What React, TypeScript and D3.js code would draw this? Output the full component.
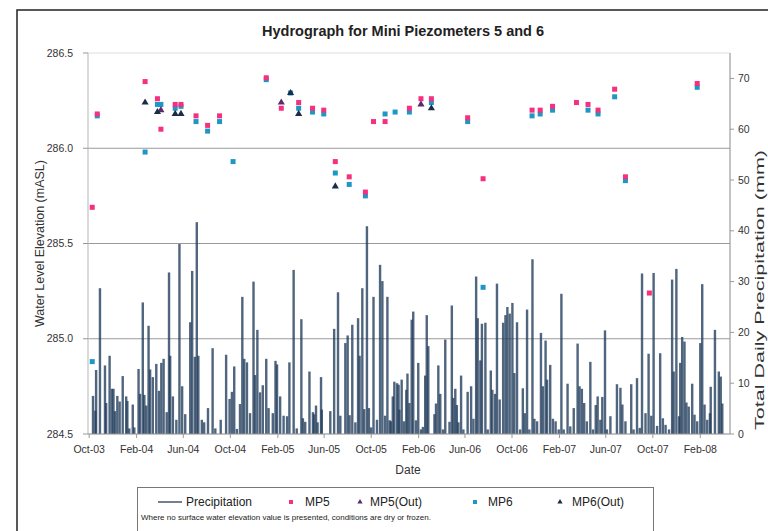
import React from "react";
import * as d3 from "d3";

/* x tick labels, every 4 months */
const TICK_LABELS = ["Oct-03", "Feb-04", "Jun-04", "Oct-04", "Feb-05", "Jun-05", "Oct-05", "Feb-06", "Jun-06", "Oct-06", "Feb-07", "Jun-07", "Oct-07", "Feb-08"];
const ELEV_TICKS = [284.5, 285.0, 285.5, 286.0, 286.5];
const PRECIP_TICKS = [0, 10, 20, 30, 40, 50, 60, 70];

/* daily precipitation (mm): [day of year, mm] */
const precip2003 = [[284, 7.5], [290, 4.6], [292, 12.6], [302, 28.7], [315, 13.5], [318, 6.1], [327, 15.4], [333, 8.9], [337, 8.9], [341, 4.5], [347, 7.5], [353, 6.4], [361, 11.4]];
const precip2004 = [[5, 7.4], [8, 6.5], [13, 1.1], [22, 5.8], [26, 1.3], [37, 12.8], [41, 7.9], [48, 25.9], [52, 7.7], [57, 5.6], [63, 21.3], [67, 12.7], [74, 11.2], [83, 13.8], [90, 8.5], [96, 14], [102, 14.8], [110, 4.3], [116, 31.8], [119, 15.4], [126, 7.4], [135, 2.8], [143, 37.4], [150, 9.4], [158, 3.9], [171, 22], [176, 32.1], [183, 15.2], [188, 41.7], [192, 15.4], [201, 2.8], [207, 2.3], [217, 5.1], [229, 16.9], [236, 1.1], [250, 2.8], [264, 15.6], [273, 6.9], [279, 8.3], [285, 13.3], [292, 1], [300, 5.9], [306, 27], [311, 14.8], [318, 14.1], [326, 4.1], [335, 30], [339, 11.6], [345, 20.5], [352, 8.2], [359, 9.6]];
const precip2005 = [[2, 14.8], [8, 5.1], [19, 4.1], [26, 14.4], [30, 13.7], [38, 7.4], [47, 3.6], [56, 3.5], [62, 14.1], [73, 32.3], [81, 1.1], [93, 22.6], [97, 3.1], [103, 2.4], [114, 12.3], [123, 4.3], [126, 3.9], [131, 5.6], [135, 2.3], [144, 11.2], [146, 4.8], [168, 4.5], [178, 20.7], [188, 27.9], [194, 3.6], [207, 17.9], [213, 19.4], [218, 3.7], [225, 21.5], [233, 2.3], [240, 22.8], [244, 15.4], [251, 28.7], [256, 4.9], [263, 40.9], [268, 5.1], [274, 1.3], [280, 27], [289, 2.8], [297, 33.3], [303, 30.1], [310, 3.6], [316, 27], [322, 2.7], [325, 2.5], [330, 7.4], [334, 10.3], [341, 10], [345, 9.7], [347, 4.8], [353, 10.7], [359, 2.5], [365, 8.7]];
const precip2006 = [[3, 11.9], [8, 6.1], [14, 22.5], [18, 24.1], [25, 2.7], [31, 14], [38, 0.9], [43, 1.4], [49, 11.5], [53, 23.4], [57, 17.3], [73, 3.9], [77, 6], [83, 13.5], [88, 7.9], [95, 0.9], [101, 18.6], [112, 2.4], [118, 25.3], [122, 7.1], [127, 8.9], [131, 5.7], [135, 2.3], [142, 11.5], [148, 0.9], [159, 8.3], [168, 9.4], [174, 3], [181, 31], [185, 22.8], [192, 14.5], [196, 21.7], [205, 21.9], [211, 0.9], [219, 12.5], [223, 8.7], [230, 7.9], [235, 29.6], [242, 6.8], [251, 21.9], [257, 23.4], [262, 25], [268, 23.7], [275, 25.8], [280, 12], [287, 22], [295, 0.9], [302, 9], [307, 4.1], [313, 24.5], [319, 0.9], [327, 34.4], [332, 3], [339, 2.5], [349, 19.9], [354, 9.4], [361, 18.4], [365, 10.7]];
const precip2007 = [[8, 13.6], [15, 3], [22, 2.5], [30, 0.9], [37, 27.6], [43, 0.9], [53, 9.9], [60, 1.5], [69, 5.1], [79, 17.8], [84, 9.4], [90, 8.9], [96, 6.1], [103, 2.5], [112, 14.2], [119, 0.9], [126, 5.7], [131, 7.4], [138, 2.8], [143, 7.3], [150, 20.4], [155, 0.9], [164, 3.5], [181, 9.8], [190, 9.1], [195, 5.8], [203, 2.5], [218, 9.8], [224, 0.9], [233, 11], [240, 1.2], [246, 31.6], [255, 4.1], [263, 15.8], [270, 3.6], [276, 31.7], [285, 1.6], [293, 15.9], [300, 3.1], [307, 1.8], [316, 0.9], [324, 30.4], [328, 12.3], [335, 32.5], [342, 3.5], [345, 14], [350, 19.1], [356, 18.2], [361, 6.2]];
const precip2008 = [[2, 5.4], [11, 9.9], [17, 3.8], [24, 2.5], [32, 17.9], [37, 29.5], [43, 5.8], [50, 2.8], [57, 4.1], [59, 9.3], [70, 20.5], [80, 12.3], [85, 11.3], [89, 6]];

/* water levels (mASL) */
const mp5 = [["2003-10-09", 285.69], ["2003-10-22", 286.18], ["2004-02-23", 286.35], ["2004-03-26", 286.26], ["2004-04-04", 286.1], ["2004-05-11", 286.23], ["2004-05-26", 286.23], ["2004-07-04", 286.17], ["2004-08-03", 286.12], ["2004-09-03", 286.17], ["2005-01-02", 286.37], ["2005-02-10", 286.21], ["2005-03-27", 286.24], ["2005-05-02", 286.21], ["2005-05-31", 286.2], ["2005-06-30", 285.93], ["2005-08-05", 285.85], ["2005-09-16", 285.77], ["2005-10-07", 286.14], ["2005-11-06", 286.14], ["2006-01-08", 286.21], ["2006-02-07", 286.26], ["2006-03-06", 286.26], ["2006-06-08", 286.16], ["2006-07-18", 285.84], ["2006-11-22", 286.2], ["2006-12-13", 286.2], ["2007-01-14", 286.22], ["2007-03-17", 286.24], ["2007-04-16", 286.23], ["2007-05-12", 286.2], ["2007-06-24", 286.31], ["2007-07-22", 285.85], ["2007-09-22", 285.24], ["2008-01-24", 286.34]];
const mp6 = [["2003-10-09", 284.88], ["2003-10-22", 286.17], ["2004-02-23", 285.98], ["2004-03-26", 286.23], ["2004-04-04", 286.23], ["2004-05-11", 286.21], ["2004-05-26", 286.22], ["2004-07-04", 286.14], ["2004-08-03", 286.09], ["2004-09-03", 286.14], ["2004-10-08", 285.93], ["2005-01-02", 286.36], ["2005-03-06", 286.29], ["2005-03-27", 286.21], ["2005-05-02", 286.19], ["2005-05-31", 286.18], ["2005-06-30", 285.87], ["2005-08-05", 285.81], ["2005-09-16", 285.75], ["2005-11-06", 286.18], ["2005-12-02", 286.19], ["2006-01-08", 286.19], ["2006-03-06", 286.24], ["2006-06-08", 286.14], ["2006-07-18", 285.27], ["2006-11-22", 286.17], ["2006-12-13", 286.18], ["2007-01-14", 286.2], ["2007-04-16", 286.2], ["2007-05-12", 286.18], ["2007-06-24", 286.27], ["2007-07-22", 285.83], ["2008-01-24", 286.32]];
const mp5Out = [["2004-04-04", 286.2], ["2005-02-10", 286.24], ["2006-02-07", 286.23]];
const mp6Out = [["2004-02-23", 286.24], ["2004-03-26", 286.19], ["2004-05-11", 286.18], ["2004-05-26", 286.18], ["2005-03-06", 286.29], ["2005-03-27", 286.18], ["2005-06-30", 285.8], ["2006-03-06", 286.21]];

const PINK = "#f4307f";
const CYAN = "#1f97c6";
const PURPLE = "#5b2a6c";
const NAVY = "#1b2c46";
const FONT = "'Liberation Sans', Arial, sans-serif";

export default function App() {
  const W = 768;
  const H = 531;
  const M = { top: 53, right: 38, bottom: 97, left: 88 };
  const x0 = M.left;
  const x1 = W - M.right;
  const y0 = H - M.bottom;
  const y1 = M.top;

  const x = d3.scaleUtc().domain([new Date(Date.UTC(2003, 8, 28)), new Date(Date.UTC(2008, 3, 18))]).range([x0, x1]);
  const yL = d3.scaleLinear().domain([284.5, 286.5]).range([y0, y1]);
  const yR = d3.scaleLinear().domain([0, 75]).range([y0, y1]);
  const parseTick = d3.utcParse("%b-%y");
  const parseDay = d3.utcParse("%Y-%m-%d");

  const precip = ([
    [2003, precip2003], [2004, precip2004], [2005, precip2005],
    [2006, precip2006], [2007, precip2007], [2008, precip2008],
  ] as [number, number[][]][]).flatMap(([yr, arr]) =>
    arr.map(([doy, mm]) => ({ date: new Date(Date.UTC(yr, 0, doy)), mm }))
  );
  const pts = (arr: (string | number)[][]) => arr.map(([d, v]) => ({ date: parseDay(d as string)!, v: v as number }));

  const tri = d3.symbol().type(d3.symbolTriangle).size(22);
  const triSmall = d3.symbol().type(d3.symbolTriangle).size(12);

  return (
    <svg width={W} height={H} style={{ display: "block", position: "absolute", left: 0, top: 0, background: "#fff", fontFamily: FONT }}>
      {/* outer frame */}
      <rect x={17} y={10} width={760} height={540} fill="none" stroke="#222" strokeWidth={1.5} />

      <text x={403} y={36} textAnchor="middle" fontSize={14.5} fontWeight="bold" fill="#222">
        Hydrograph for Mini Piezometers 5 and 6
      </text>

      {/* plot border + grid */}
      <rect x={x0} y={y1} width={x1 - x0} height={y0 - y1} fill="none" stroke="#ddd" strokeWidth={1} />
      {ELEV_TICKS.slice(1, -1).map((t) => (
        <line key={t} x1={x0} x2={x1} y1={yL(t)} y2={yL(t)} stroke="#9a9a9a" strokeWidth={1} />
      ))}

      {/* precipitation */}
      <g>
        {precip.map((d, i) => (
          <rect key={i} x={x(d.date) - 1.2} width={2.4} y={yR(d.mm)} height={y0 - yR(d.mm)} fill="#243e5e" fillOpacity={0.8} />
        ))}
      </g>

      {/* axes */}
      <line x1={x0} x2={x0} y1={y1} y2={y0} stroke="#c8c8c8" />
      <line x1={x1} x2={x1} y1={y1} y2={y0} stroke="#999" />
      <line x1={x0} x2={x1} y1={y0} y2={y0} stroke="#999" />
      {ELEV_TICKS.map((t) => (
        <g key={t}>
          <line x1={x0 - 5} x2={x0} y1={yL(t)} y2={yL(t)} stroke="#999" />
          <text x={73} y={yL(t)} dy="0.35em" textAnchor="end" fontSize={10.5} fill="#333">{t.toFixed(1)}</text>
        </g>
      ))}
      {PRECIP_TICKS.map((t) => (
        <g key={t}>
          <line x1={x1} x2={x1 + 4} y1={yR(t)} y2={yR(t)} stroke="#999" />
          <text x={x1 + 8} y={yR(t)} dy="0.35em" fontSize={10.5} fill="#333">{t}</text>
        </g>
      ))}
      {TICK_LABELS.map((l) => {
        const d = parseTick(l)!;
        return (
          <g key={l}>
            <line x1={x(d)} x2={x(d)} y1={y0} y2={y0 + 4} stroke="#999" />
            <text x={x(d)} y={y0 + 19} textAnchor="middle" fontSize={10.5} fill="#333">{l}</text>
          </g>
        );
      })}
      <text x={408} y={474} textAnchor="middle" fontSize={12} fill="#333">Date</text>
      <text transform={`translate(44,${(y0 + y1) / 2}) rotate(-90)`} textAnchor="middle" fontSize={12.5} fill="#333">
        Water Level Elevation (mASL)
      </text>
      <text transform={`translate(764,290) rotate(-90)`} textAnchor="middle" fontSize={12.5} fill="#333" textLength={280} lengthAdjust="spacingAndGlyphs">
        Total Daily Precipitation (mm)
      </text>

      {/* water levels */}
      {pts(mp6).map((d, i) => (
        <rect key={"b" + i} x={x(d.date) - 2.5} y={yL(d.v) - 2.5} width={5} height={5} fill={CYAN} />
      ))}
      {pts(mp5).map((d, i) => (
        <rect key={"a" + i} x={x(d.date) - 2.5} y={yL(d.v) - 2.5} width={5} height={5} fill={PINK} />
      ))}
      {pts(mp5Out).map((d, i) => (
        <path key={"c" + i} d={tri()!} transform={`translate(${x(d.date)},${yL(d.v)})`} fill={PURPLE} />
      ))}
      {pts(mp6Out).map((d, i) => (
        <path key={"d" + i} d={tri()!} transform={`translate(${x(d.date)},${yL(d.v)})`} fill={NAVY} />
      ))}

      {/* legend */}
      <rect x={137.5} y={487.5} width={516} height={60} fill="#fff" stroke="#777" strokeWidth={1} />
      <line x1={158} x2={182} y1={502} y2={502} stroke={NAVY} strokeWidth={1.2} />
      <text x={186} y={506} fontSize={12} fill="#222">Precipitation</text>
      <rect x={289} y={500} width={4} height={4} fill={PINK} />
      <text x={305} y={506} fontSize={12} fill="#222">MP5</text>
      <path d={triSmall()!} transform="translate(360,502)" fill={PURPLE} />
      <text x={370} y={506} fontSize={12} fill="#222">MP5(Out)</text>
      <rect x={473} y={500} width={4} height={4} fill={CYAN} />
      <text x={488} y={506} fontSize={12} fill="#222">MP6</text>
      <path d={triSmall()!} transform="translate(560,502)" fill={NAVY} />
      <text x={572} y={506} fontSize={12} fill="#222">MP6(Out)</text>
      <text x={141} y={520} fontSize={8} fill="#222">
        Where no surface water elevation value is presented, conditions are dry or frozen.
      </text>
    </svg>
  );
}
